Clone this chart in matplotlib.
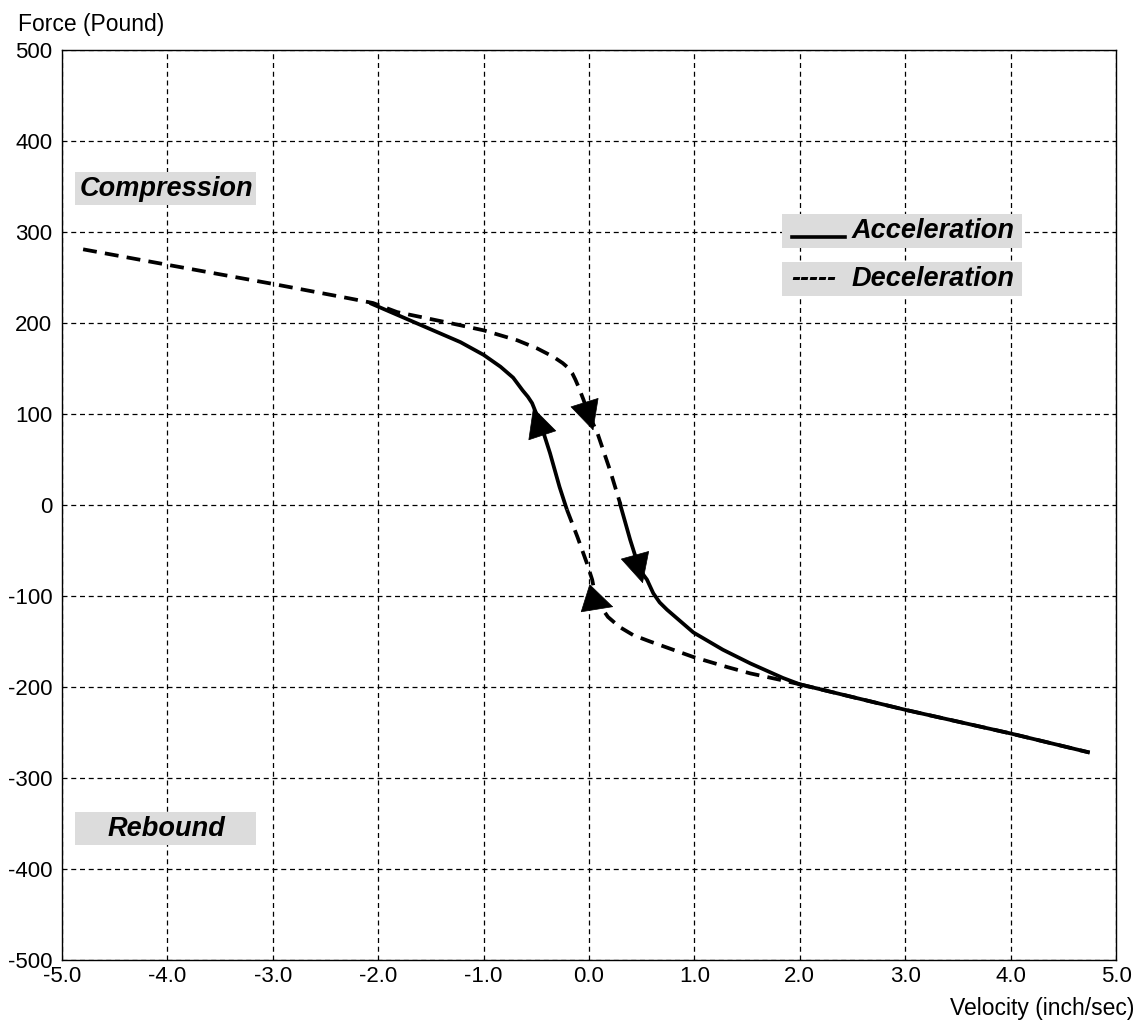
import matplotlib
matplotlib.use('Agg')
import matplotlib.pyplot as plt
from matplotlib.patches import Rectangle

# upper branch, deceleration (dashed)
decel_upper_x = [-4.8, -4.0, -3.0, -2.27, -2.05, -1.82, -1.32, -1.0, -0.68, -0.49, -0.34,
                 -0.25, -0.20, -0.16, -0.13, -0.10, -0.05, -0.02, 0.08, 0.20, 0.30]
decel_upper_y = [281, 264, 243, 227, 222, 212, 200, 192, 181, 172, 163,
                 156, 151, 145, 138, 130, 115, 104, 79, 38, 0]

# upper-left branch, acceleration (solid)
accel_left_x = [-2.08, -1.48, -1.22, -1.0, -0.84, -0.72, -0.63, -0.58, -0.54, -0.45, -0.37, -0.28, -0.21]
accel_left_y = [222, 192, 179, 165, 152, 140, 126, 119, 112, 86, 57, 20, -5]

# lower-left branch, deceleration (dashed)
decel_lower_x = [-0.21, -0.11, -0.02, 0.03, 0.06, 0.12, 0.18, 0.29, 0.42, 0.58, 0.99, 1.31,
                 1.53, 1.81, 2.0]
decel_lower_y = [-5, -35, -64, -82, -100, -113, -123, -134, -143, -150, -167, -178,
                 -185, -192, -197]

# lower-right branch, acceleration (solid) incl. common tail
accel_right_x = [0.29, 0.39, 0.48, 0.55, 0.61, 0.67, 0.74, 0.99, 1.27, 1.53, 1.84, 2.0, 3.0, 4.0, 4.75]
accel_right_y = [3, -38, -71, -82, -97, -107, -115, -140, -159, -174, -190, -197, -225, -251, -272]
tail_x = [2.0, 3.0, 4.0, 4.75]
tail_y = [-197, -225, -251, -272]

# direction arrows: (tail, tip)
arrows = [
    ((-0.47, 86), (-0.53, 107)),
    ((-0.03, 108), (0.04, 82)),
    ((0.455, -63), (0.51, -86)),
    ((0.01, -104), (0.23, -112)),
]

x_ticks = [-5, -4, -3, -2, -1, 0, 1, 2, 3, 4, 5]
y_ticks = [-500, -400, -300, -200, -100, 0, 100, 200, 300, 400, 500]

plt.rcParams['font.family'] = ['Liberation Sans', 'DejaVu Sans']

fig = plt.figure(figsize=(11.36, 10.21), dpi=100)
ax = fig.add_axes([0.0546, 0.0597, 0.9278, 0.8913])

lw = 2.7
dash = (0, (3.7, 2.2))
ax.plot(decel_upper_x, decel_upper_y, color='black', lw=lw, linestyle=dash)
ax.plot(decel_lower_x, decel_lower_y, color='black', lw=lw, linestyle=dash)
ax.plot(accel_left_x, accel_left_y, color='black', lw=lw, solid_capstyle='butt')
ax.plot(accel_right_x, accel_right_y, color='black', lw=lw, solid_capstyle='butt')
ax.plot(tail_x, tail_y, color='black', lw=lw, linestyle=dash)

for tail, tip in arrows:
    ax.annotate('', xy=tip, xytext=tail,
                arrowprops=dict(arrowstyle='-|>,head_length=1.7,head_width=0.85',
                                mutation_scale=12, color='black', lw=0.5,
                                shrinkA=0, shrinkB=0))

ax.set_xlim(-5, 5)
ax.set_ylim(-500, 500)
ax.set_xticks(x_ticks)
ax.set_yticks(y_ticks)
ax.set_xticklabels([f'{v:.1f}' for v in x_ticks])
ax.set_yticklabels([str(v) for v in y_ticks])
ax.tick_params(axis='x', length=0, labelsize=16, pad=4)
ax.tick_params(axis='y', length=0, labelsize=16, pad=7)
ax.grid(True, color='black', linestyle=(0, (4, 3)), linewidth=0.9)
for s in ax.spines.values():
    s.set_linewidth(1.0)

fig.text(18 / 1136, 1 - 25 / 1021, 'Force (Pound)', fontsize=16.5, va='center', ha='left')
fig.text(1134 / 1136, 1 - 1008 / 1021, 'Velocity (inch/sec)', fontsize=16.5, va='center', ha='right')


# grey label boxes
def box(x0, y0, x1, y1):
    fig.patches.append(Rectangle((x0 / 1136, 1 - y1 / 1021), (x1 - x0) / 1136, (y1 - y0) / 1021,
                                 transform=fig.transFigure, facecolor='#dcdcdc',
                                 edgecolor='none', zorder=3))


label_kw = dict(fontsize=19.5, fontweight='bold', style='italic', va='center', zorder=4)

box(75, 172, 256, 205)
fig.text(166 / 1136, 1 - 189 / 1021, 'Compression', ha='center', **label_kw)
box(75, 812, 256, 845)
fig.text(166 / 1136, 1 - 829 / 1021, 'Rebound', ha='center', **label_kw)

box(782, 214, 1022, 248)
fig.lines.append(plt.Line2D([792 / 1136, 845 / 1136], [1 - 237 / 1021] * 2,
                            transform=fig.transFigure, color='black', lw=2.6, zorder=5))
fig.text(852 / 1136, 1 - 231 / 1021, 'Acceleration', ha='left', **label_kw)
box(782, 262, 1022, 296)
fig.text(791 / 1136, 1 - 279 / 1021, '-----', ha='left', **label_kw)
fig.text(852 / 1136, 1 - 279 / 1021, 'Deceleration', ha='left', **label_kw)

fig.savefig('out.png', dpi=100)
